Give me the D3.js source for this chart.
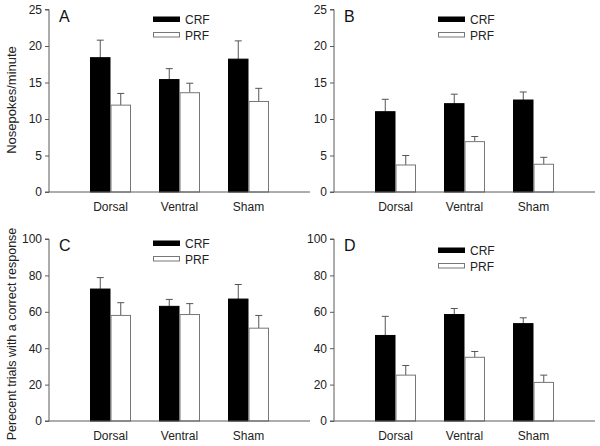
<!DOCTYPE html>
<html><head><meta charset="utf-8">
<script src="https://cdn.jsdelivr.net/npm/d3@7"></script>
<style>body{margin:0;background:#fff}svg{display:block}text{font-family:Arial,"Liberation Sans",sans-serif}</style>
</head><body>
<svg id="c" width="600" height="446"></svg>
<script>
const categories = ["Dorsal", "Ventral", "Sham"];
const seriesNames = ["CRF", "PRF"];
// Panel A: Nosepokes/minute
const A_CRF = [18.4, 15.4, 18.2];
const A_CRF_err = [2.4, 1.5, 2.5];
const A_PRF = [11.9, 13.6, 12.4];
const A_PRF_err = [1.6, 1.3, 1.8];
// Panel B
const B_CRF = [11.0, 12.1, 12.6];
const B_CRF_err = [1.7, 1.3, 1.1];
const B_PRF = [3.7, 6.9, 3.8];
const B_PRF_err = [1.3, 0.7, 0.95];
// Panel C: percent correct
const C_CRF = [72.5, 63.0, 67.0];
const C_CRF_err = [6.3, 3.8, 8.0];
const C_PRF = [58.0, 58.5, 51.0];
const C_PRF_err = [7.0, 6.0, 7.0];
// Panel D
const D_CRF = [47.0, 58.5, 53.5];
const D_CRF_err = [10.5, 3.3, 3.2];
const D_PRF = [25.2, 35.0, 21.2];
const D_PRF_err = [5.3, 3.2, 4.0];
const ticksTop = [0, 5, 10, 15, 20, 25];
const ticksBottom = [0, 20, 40, 60, 80, 100];
const yLabelTop = "Nosepokes/minute";
const yLabelBottom = "Perecent trials with a correct response";

const panels = [
  {letter:"A", x0:49, yb:192, yt:9.5, max:25, ticks:ticksTop, crf:A_CRF, crfE:A_CRF_err, prf:A_PRF, prfE:A_PRF_err, legY:16.5},
  {letter:"B", x0:334, yb:192, yt:9.5, max:25, ticks:ticksTop, crf:B_CRF, crfE:B_CRF_err, prf:B_PRF, prfE:B_PRF_err, legY:16.5},
  {letter:"C", x0:49, yb:421, yt:239, max:100, ticks:ticksBottom, crf:C_CRF, crfE:C_CRF_err, prf:C_PRF, prfE:C_PRF_err, legY:240.5},
  {letter:"D", x0:334, yb:421, yt:239, max:100, ticks:ticksBottom, crf:D_CRF, crfE:D_CRF_err, prf:D_PRF, prfE:D_PRF_err, legY:247.5}
];
const axisColor = "#5a5a5a";
const svg = d3.select("#c");
const W = 261, bw = 20.5;

panels.forEach(p => {
  const g = svg.append("g");
  const x = d3.scalePoint().domain(categories).range([p.x0 + 61.5, p.x0 + 199.5]);
  const y = d3.scaleLinear().domain([0, p.max]).range([p.yb, p.yt]);
  const series = [
    {name:"CRF", vals:p.crf, errs:p.crfE, fill:"#000", off:-bw},
    {name:"PRF", vals:p.prf, errs:p.prfE, fill:"#fff", off:0}
  ];
  series.forEach(s => {
    categories.forEach((c, i) => {
      const cx = x(c) + s.off + bw/2;
      g.append("line").attr("x1", cx).attr("x2", cx)
        .attr("y1", y(s.vals[i])).attr("y2", y(s.vals[i] + s.errs[i]))
        .attr("stroke", "#555").attr("stroke-width", 1);
      g.append("line").attr("x1", cx - 3.5).attr("x2", cx + 3.5)
        .attr("y1", y(s.vals[i] + s.errs[i])).attr("y2", y(s.vals[i] + s.errs[i]))
        .attr("stroke", "#555").attr("stroke-width", 1);
    });
    g.selectAll(null).data(s.vals).enter().append("rect")
      .attr("x", (d, i) => x(categories[i]) + s.off + 0.5)
      .attr("y", d => y(d))
      .attr("width", bw - 1)
      .attr("height", d => y(0) - y(d))
      .attr("fill", s.fill)
      .attr("stroke", s.name === "CRF" ? "#000" : "#777")
      .attr("stroke-width", 1);
  });
  const ya = d3.axisLeft(y).tickValues(p.ticks).tickSize(4).tickPadding(3);
  const yg = g.append("g").attr("transform", `translate(${p.x0},0)`).call(ya);
  yg.select(".domain").attr("stroke", axisColor).attr("d", `M-4,${p.yt}H0V${p.yb}H-4`);
  yg.selectAll(".tick line").attr("stroke", axisColor);
  yg.selectAll(".tick text").attr("font-size", 12).attr("fill", "#222")
    .attr("font-family", "Arial, 'Liberation Sans', sans-serif");
  g.append("line").attr("x1", p.x0).attr("x2", p.x0 + W).attr("y1", p.yb).attr("y2", p.yb)
    .attr("stroke", axisColor);
  g.selectAll(null).data(categories).enter().append("text")
    .attr("x", d => x(d)).attr("y", p.yb + 19)
    .attr("text-anchor", "middle").attr("font-size", 12).attr("fill", "#222")
    .text(d => d);
  g.append("text").attr("x", p.x0 + 10).attr("y", p.yt + 12).attr("font-size", 16)
    .attr("fill", "#111").text(p.letter);
  const lx = p.x0 + 104;
  seriesNames.forEach((n, i) => {
    g.append("rect").attr("x", lx + 0.5).attr("y", p.legY + i*15.5 + 0.5).attr("width", 26).attr("height", 4.5)
      .attr("fill", i === 0 ? "#000" : "#fff").attr("stroke", i === 0 ? "#000" : "#777");
    g.append("text").attr("x", lx + 32).attr("y", p.legY + i*15.5 + 7.5).attr("font-size", 12)
      .attr("fill", "#222").text(n);
  });
});
svg.append("text").attr("transform", "translate(16,100) rotate(-90)").attr("text-anchor", "middle")
  .attr("font-size", 13).attr("fill", "#222").text(yLabelTop);
svg.append("text").attr("transform", "translate(16,334) rotate(-90)").attr("text-anchor", "middle")
  .attr("font-size", 12.5).attr("fill", "#222").text(yLabelBottom);
</script>
</body></html>
